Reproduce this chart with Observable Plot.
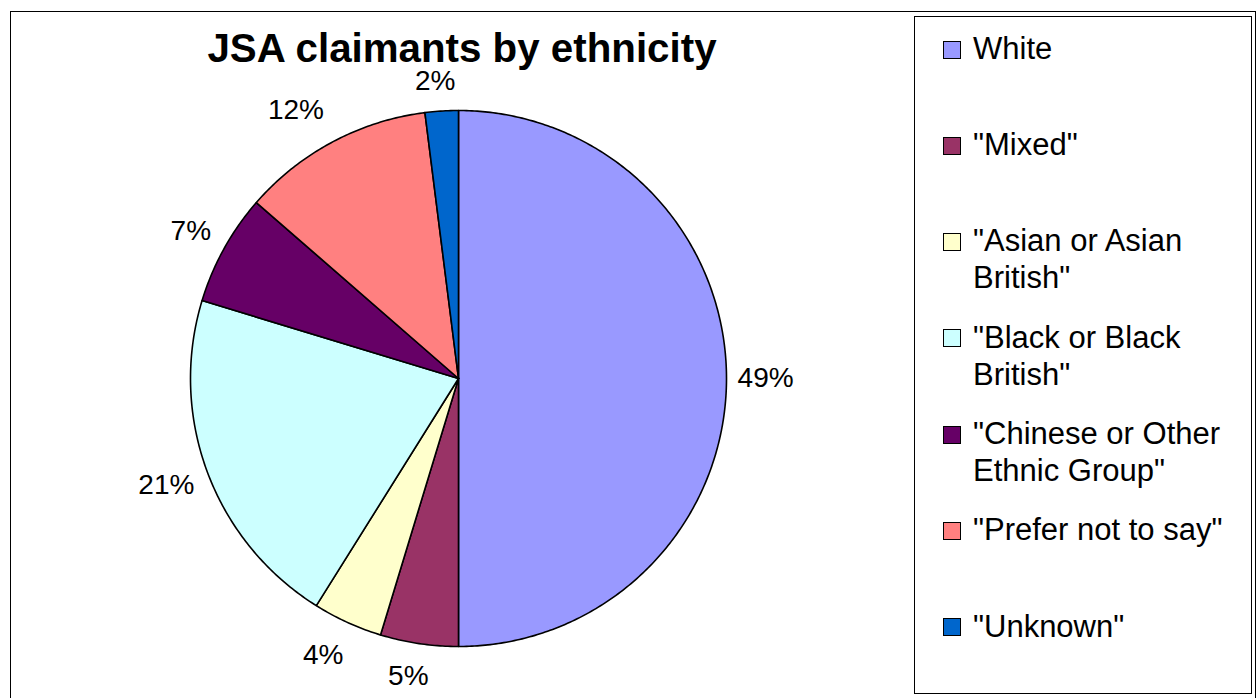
<!DOCTYPE html>
<html>
<head>
<meta charset="utf-8">
<script src="https://cdn.jsdelivr.net/npm/d3@7"></script>
<script src="https://cdn.jsdelivr.net/npm/@observablehq/plot@0.6"></script>
<style>
  html, body { margin: 0; padding: 0; background: #fff; }
  body { width: 1260px; height: 698px; position: relative; overflow: hidden; font-family: Arial, "Liberation Sans", sans-serif; }
  #chart { position: absolute; left: 0; top: 0; }
  #outer { position: absolute; left: 10px; top: 11px; width: 1246px; height: 700px; border: 1.5px solid #000; box-sizing: border-box; }
  #title { position: absolute; left: 0; width: 924px; top: 30.5px; text-align: center; font-weight: bold; font-size: 40.3px; line-height: 35px; color: #000; }
  #legend { position: absolute; left: 914px; top: 16px; width: 338px; height: 678px; border: 1.5px solid #000; box-sizing: border-box; background: #fff; }
  .item { position: absolute; left: 0; width: 330px; }
  .sw { position: absolute; left: 28px; width: 18px; height: 18px; border: 1.5px solid #000; box-sizing: border-box; }
  .lab { position: absolute; left: 58px; width: 262px; font-size: 31px; line-height: 37px; color: #000; }
</style>
</head>
<body>
<div id="outer"></div>
<div id="chart"></div>
<div id="title">JSA claimants by ethnicity</div>
<div id="legend"></div>
<script>
const categories = ["White", "\"Mixed\"", "\"Asian or Asian British\"", "\"Black or Black British\"", "\"Chinese or Other Ethnic Group\"", "\"Prefer not to say\"", "\"Unknown\""];
const values = [50.0, 4.7, 4.2, 20.8, 6.7, 11.6, 2.0];
const pctLabels = ["49%", "5%", "4%", "21%", "7%", "12%", "2%"];
const colors = ["#9999FF", "#993366", "#FFFFCC", "#CCFFFF", "#660066", "#FF8080", "#0066CC"];

// layout: pixel nudges of the outside labels (Excel-style placement)
const pxPerUnit = 268;
const labelNudge = [[0, 0], [-5, -6], [-8, -3], [-4.5, -1.5], [1, 1], [-18, 3], [-4, 9]];

const pie = d3.pie().sort(null).value(d => d)(values);
const slicePts = [];
pie.forEach((p, i) => {
  const name = categories[i];
  slicePts.push({name, x: 0, y: 0});
  const n = Math.max(8, Math.ceil((p.endAngle - p.startAngle) / 0.01));
  for (let k = 0; k <= n; k++) {
    const a = p.startAngle + (p.endAngle - p.startAngle) * k / n;
    slicePts.push({name, x: Math.sin(a), y: Math.cos(a)});
  }
  slicePts.push({name, x: 0, y: 0});
});
const labelR = 1.146;
const labelData = pie.map((p, i) => {
  const a = (p.startAngle + p.endAngle) / 2;
  return {
    name: categories[i],
    label: pctLabels[i],
    x: labelR * Math.sin(a) + labelNudge[i][0] / pxPerUnit,
    y: labelR * Math.cos(a) - labelNudge[i][1] / pxPerUnit
  };
});

const chart = Plot.plot({
  width: 1260,
  height: 698,
  margin: 0,
  style: {background: "transparent", fontFamily: "Arial, 'Liberation Sans', sans-serif"},
  x: {domain: [-1, 1], range: [190, 726], axis: null},
  y: {domain: [-1, 1], range: [646, 110], axis: null},
  color: {domain: categories, range: colors},
  marks: [
    Plot.line(slicePts, {x: "x", y: "y", z: "name", fill: "name", stroke: "#000", strokeWidth: 1.6, strokeLinejoin: "round", curve: "linear"}),
    Plot.text(labelData, {x: "x", y: "y", text: "label", fontSize: 28, fill: "#000"})
  ]
});
document.getElementById("chart").appendChild(chart);

const legend = document.getElementById("legend");
const step = 96.3, first = 48.5 - 16;
categories.forEach((c, i) => {
  const cy = first + i * step;
  const it = document.createElement("div");
  it.className = "item";
  it.style.top = "0px";
  const sw = document.createElement("div");
  sw.className = "sw";
  sw.style.background = colors[i];
  sw.style.top = (cy - 9) + "px";
  const lab = document.createElement("div");
  lab.className = "lab";
  lab.style.top = (cy - 19.8) + "px";
  lab.textContent = c;
  it.appendChild(sw);
  it.appendChild(lab);
  legend.appendChild(it);
});
</script>
</body>
</html>
